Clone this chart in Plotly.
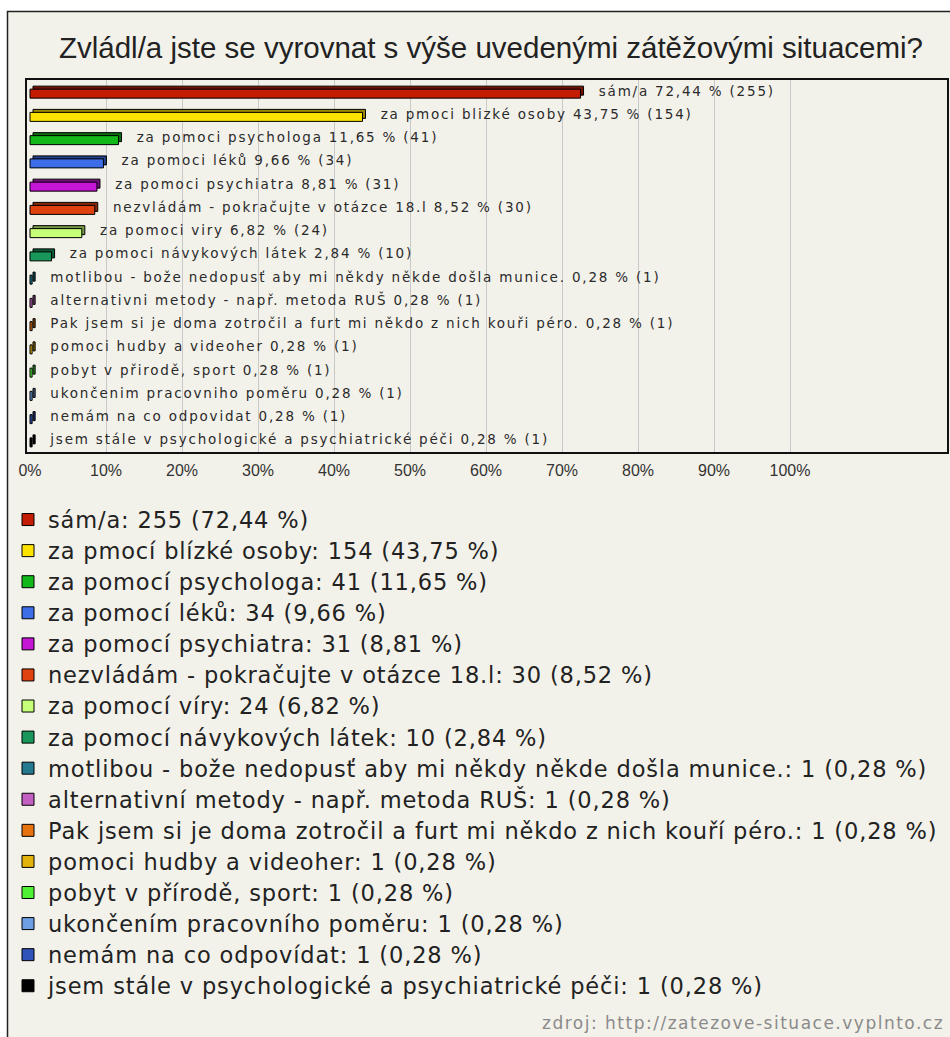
import plotly.graph_objects as go

# ---------------- data ----------------
names = [
    "sám/a",
    "za pmocí blízké osoby",
    "za pomocí psychologa",
    "za pomocí léků",
    "za pomocí psychiatra",
    "nezvládám - pokračujte v otázce 18.l",
    "za pomocí víry",
    "za pomocí návykových látek",
    "motlibou - bože nedopusť aby mi někdy někde došla munice.",
    "alternativní metody - např. metoda RUŠ",
    "Pak jsem si je doma zotročil a furt mi někdo z nich kouří péro.",
    "pomoci hudby a videoher",
    "pobyt v přírodě, sport",
    "ukončením pracovního poměru",
    "nemám na co odpovídat",
    "jsem stále v psychologické a psychiatrické péči",
]
counts = [255, 154, 41, 34, 31, 30, 24, 10, 1, 1, 1, 1, 1, 1, 1, 1]
percents = [72.44, 43.75, 11.65, 9.66, 8.81, 8.52, 6.82, 2.84,
            0.28, 0.28, 0.28, 0.28, 0.28, 0.28, 0.28, 0.28]
colors = ["#c41c00", "#ffe300", "#12b71a", "#3d6ee8", "#c515d5", "#e0420f",
          "#c6ff78", "#17985a", "#24798f", "#c25fc0", "#e5720e", "#e3b30d",
          "#4ef233", "#6e9ee3", "#2f53b8", "#000000"]
tick_values = [0, 10, 20, 30, 40, 50, 60, 70, 80, 90, 100]
tick_labels = ["0%", "10%", "20%", "30%", "40%", "50%", "60%", "70%", "80%", "90%", "100%"]
grid_values = [10, 20, 30, 40, 50, 60, 70, 80, 90, 100]

title_text = "Zvládl/a jste se vyrovnat s výše uvedenými zátěžovými situacemi?"
source_text = "zdroj: http://zatezove-situace.vyplnto.cz"

# ---------------- helpers ----------------
W, H = 950, 1037


def fx(px):
    return px / W


def fy(py):
    return 1 - py / H


def pct_str(p):
    return f"{p:.2f}".replace(".", ",")


def darker(hex_color, f=0.6):
    h = hex_color.lstrip("#")
    r, g, b = (int(h[i:i + 2], 16) for i in (0, 2, 4))
    return "#{:02x}{:02x}{:02x}".format(int(r * f), int(g * f), int(b * f))


def spaced(text, size, ls):
    return f"<span style='font-size:{size}px;letter-spacing:{ls}px'>{text}</span>"


bar_labels = [spaced("\u00a0\u00a0" + n.replace("í", "i") + f" {pct_str(p)} % ({c})", 13.5, 1.8)
              for n, p, c in zip(names, percents, counts)]
legend_labels = [spaced(f"{n}: {c} ({pct_str(p)} %)", 22.5, 0.85)
                 for n, p, c in zip(names, percents, counts)]

ROW = 23.25      # px per category
PXPCT = 7.6      # px per percent
front_w = 9 / ROW
front_off = -2.5 / ROW
back_off = -5.5 / ROW
shift = 3 / PXPCT

fig = go.Figure()

# back (3D top/side) faces with labels
fig.add_trace(go.Bar(
    y=names, x=percents, base=shift, orientation="h",
    width=front_w, offset=back_off,
    marker=dict(color=[darker(c) for c in colors], line=dict(color="#000000", width=1)),
    text=bar_labels, textposition="outside", constraintext="none", cliponaxis=False,
    textfont=dict(family="DejaVu Sans", size=13.5, color="#2a2a2a"),
    showlegend=False, hoverinfo="skip",
))

# front faces, one per category for the legend
for n, p, c, lab in zip(names, percents, colors, legend_labels):
    fig.add_trace(go.Bar(
        y=[n], x=[p], orientation="h", width=front_w, offset=front_off,
        marker=dict(color=c, line=dict(color="#000000", width=1)),
        name=lab, legendgroup=n, showlegend=True, hoverinfo="skip",
    ))

fig.update_layout(
    width=W, height=H,
    margin=dict(l=0, r=0, t=0, b=0, autoexpand=False),
    paper_bgcolor="#ffffff",
    plot_bgcolor="#ffffff",
    barmode="overlay",
    showlegend=True,
    title=dict(text=title_text, x=fx(491), xanchor="center", y=fy(48), yanchor="middle",
               font=dict(family="Liberation Sans", size=29.5, color="#222222")),
    legend=dict(x=fx(8), xanchor="left", y=fy(499), yanchor="top",
                font=dict(family="DejaVu Sans", size=21.6, color="#222222"),
                bgcolor="rgba(0,0,0,0)", traceorder="normal",
                itemclick=False, itemdoubleclick=False),
    xaxis=dict(domain=[fx(27), fx(947)], range=[-3 / PXPCT, 917 / PXPCT],
               tickvals=tick_values, ticktext=tick_labels, showgrid=False,
               minor=dict(tickvals=grid_values, showgrid=True, gridcolor="#c8c8c8", gridwidth=1, ticks=""),
               zeroline=False, showline=True, mirror=True, linecolor="#111111", linewidth=2,
               ticks="", ticklabelstandoff=3, automargin=False,
               tickfont=dict(family="Liberation Sans", size=16, color="#333333"),
               fixedrange=True),
    yaxis=dict(domain=[fy(452), fy(80)], categoryorder="array", categoryarray=names,
               autorange="reversed", showticklabels=False, showgrid=False, zeroline=False,
               showline=True, mirror=True, linecolor="#111111", linewidth=2, ticks="",
               automargin=False, fixedrange=True),
    shapes=[dict(type="rect", xref="paper", yref="paper", x0=fx(7.5), x1=1.05, y0=-0.05, y1=fy(11.5),
                 fillcolor="#f3f2ea", line=dict(color="#222222", width=1.5), layer="below")],
    annotations=[dict(text=spaced(source_text, 17, 1.5), xref="paper", yref="paper",
                      x=fx(946), y=fy(1023),
                      xanchor="right", yanchor="middle", showarrow=False,
                      font=dict(family="DejaVu Sans", size=17, color="#8a8a8a"))],
)

fig.write_html("out.html")
